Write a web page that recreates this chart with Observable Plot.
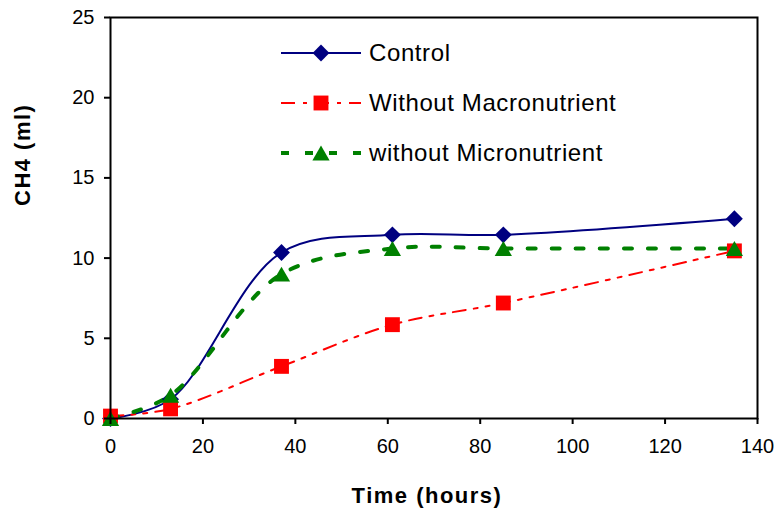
<!DOCTYPE html>
<html>
<head>
<meta charset="utf-8">
<script src="https://cdn.jsdelivr.net/npm/d3@7"></script>
<script src="https://cdn.jsdelivr.net/npm/@observablehq/plot@0.6"></script>
<style>
  html, body { margin: 0; padding: 0; background: #fff; }
  #chart { position: relative; width: 777px; height: 523px; font-family: Arial, "Liberation Sans", sans-serif; }
  #legend { position: absolute; left: 0; top: 0; pointer-events: none; }
</style>
</head>
<body>
<div id="chart"></div>
<script>
// ---- data ----
const time = [0, 13, 37, 61, 85, 135];
const control = [0, 1.2, 10.35, 11.45, 11.45, 12.45];
const withoutMacro = [0.15, 0.6, 3.25, 5.85, 7.2, 10.45];
const withoutMicro = [0, 1.45, 9.0, 10.6, 10.6, 10.6];

const seriesNames = ["Control", "Without Macronutrient", "without Micronutrient"];
const xTicks = [0, 20, 40, 60, 80, 100, 120, 140];
const yTicks = [0, 5, 10, 15, 20, 25];

const styles = {
  "Control": {color: "#000080", dash: null, legendDash: null, width: 2, symbol: "diamond2", r: 7.6, dy: 0},
  "Without Macronutrient": {color: "#FF0000", dash: "13,8,4,8,4,8", legendDash: "14,8,4,8", width: 2, symbol: "square", r: 8.4, dy: 0},
  "without Micronutrient": {color: "#008000", dash: "8,16", legendDash: "8,16", width: 4, symbol: "triangle", r: 6.4, dy: 2.5}
};

const values = [control, withoutMacro, withoutMicro];
const data = seriesNames.map((name, i) => time.map((t, j) => ({series: name, time: t, ch4: values[i][j]})));

const marks = [];
data.forEach((rows, i) => {
  const s = styles[seriesNames[i]];
  marks.push(Plot.line(rows, {x: "time", y: "ch4", stroke: s.color, strokeWidth: s.width,
    strokeDasharray: s.dash, curve: "catmull-rom"}));
});
data.forEach((rows, i) => {
  const s = styles[seriesNames[i]];
  marks.push(Plot.dot(rows, {x: "time", y: "ch4", symbol: () => s.symbol, fill: s.color, stroke: "none", r: s.r, dy: s.dy}));
});

marks.push(Plot.frame({stroke: "black", strokeWidth: 2}));
marks.push(Plot.axisX({ticks: xTicks, tickSize: 6, tickPadding: 14, fontSize: 20, label: null, stroke: "black", strokeWidth: 2}));
marks.push(Plot.axisY({ticks: yTicks, tickSize: 6, tickPadding: 10, fontSize: 20, label: null, stroke: "black", strokeWidth: 2}));
marks.push(Plot.text(["Time (hours)"], {frameAnchor: "bottom", dy: 84, dx: -7, text: d => d, fontSize: 22, fontWeight: "bold", fill: "black"}));
marks.push(Plot.text(["CH4 (ml)"], {frameAnchor: "left", rotate: -90, dx: -88, dy: -12, text: d => d, fontSize: 22, fontWeight: "bold", fill: "black"}));

const chart = Plot.plot({
  width: 777,
  height: 523,
  marginLeft: 110,
  marginRight: 20,
  marginTop: 17,
  marginBottom: 105,
  style: {fontFamily: "Arial, 'Liberation Sans', sans-serif", color: "black", background: "white", overflow: "visible"},
  x: {domain: [0, 140]},
  y: {domain: [0, 25]},
  marks
});
chart.querySelectorAll("text").forEach(t => { if (t.closest("[aria-label^='text']")) t.style.letterSpacing = "1.5px"; });
const container = document.getElementById("chart");
container.appendChild(chart);

// ---- legend overlay ----
const symMap = {diamond2: d3.symbolDiamond2, square: d3.symbolSquare, triangle: d3.symbolTriangle};
const legend = d3.select(container).append("svg")
  .attr("id", "legend").attr("width", 777).attr("height", 523);
const rowY = [53, 103, 153];
seriesNames.forEach((name, i) => {
  const s = styles[name];
  const g = legend.append("g").attr("transform", `translate(0,${rowY[i]})`);
  g.append("line").attr("x1", 281).attr("x2", 361).attr("y1", 0).attr("y2", 0)
    .attr("stroke", s.color).attr("stroke-width", s.width)
    .attr("stroke-dasharray", s.legendDash);
  g.append("path").attr("transform", `translate(321,${s.dy})`)
    .attr("d", d3.symbol(symMap[s.symbol], Math.PI * s.r * s.r)())
    .attr("fill", s.color);
  g.append("text").attr("x", 369).attr("y", 0).attr("dy", "0.35em")
    .attr("font-size", 24).attr("letter-spacing", "0.6px")
    .attr("font-family", "Arial, 'Liberation Sans', sans-serif")
    .attr("fill", "black").text(name);
});
</script>
</body>
</html>
